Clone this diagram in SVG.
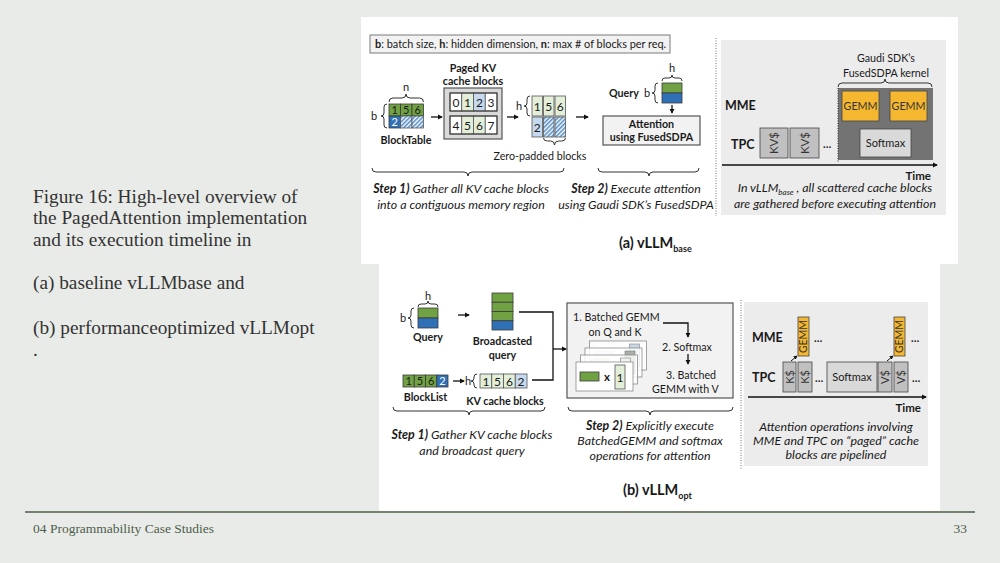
<svg xmlns="http://www.w3.org/2000/svg" width="1000" height="563" viewBox="0 0 1000 563">
<defs>
<style>
.t{font-family:Lato,"Open Sans","Liberation Sans",sans-serif;font-size:10.7px;fill:#1a1a1a}
.b{font-weight:bold}
.i{font-style:italic;font-size:12.4px}
.m{text-anchor:middle}
.e{text-anchor:end}
.n{font-size:12px}
.s{font-size:11px}
.sl{font-family:"Liberation Serif","DejaVu Serif",serif;font-size:19.3px;fill:#333}
.ft{font-family:"Liberation Serif","DejaVu Serif",serif;font-size:13.5px;fill:#4d5e4a}
.g{fill:#70a244;stroke:#3a3a3a;stroke-width:0.8}
.bl{fill:#2f70b7;stroke:#3a3a3a;stroke-width:0.8}
.lg{fill:#e3efd9;stroke:#555;stroke-width:0.8}
.lb{fill:#c7d9ee;stroke:#555;stroke-width:0.8}
.w{fill:#fff;stroke:#555;stroke-width:0.8}
.h{fill:url(#hatch);stroke:#555;stroke-width:0.8}
.ar{stroke:#111;stroke-width:1.3;fill:none;marker-end:url(#ah)}
.br{fill:none;stroke:#333;stroke-width:1}
.dv{stroke:#8a8a8a;stroke-width:1.2;stroke-dasharray:1 1.5}
.gm{fill:#f4b72f;stroke:#444;stroke-width:0.8}
.gy{fill:#c0c0c0;stroke:#444;stroke-width:0.8}
.sm{fill:#d9d9d9;stroke:#444;stroke-width:0.8}
.card{fill:#fff;fill-opacity:0.8;stroke:#8a8a8a;stroke-width:0.8}
</style>
<marker id="ah" viewBox="0 0 6 6" refX="5" refY="3" markerWidth="4" markerHeight="4" orient="auto"><path d="M0,0 L6,3 L0,6 z" fill="#111"/></marker>
<pattern id="hatch" width="3" height="3" patternUnits="userSpaceOnUse" patternTransform="rotate(45)"><rect width="3" height="3" fill="#fff"/><line x1="0.8" y1="0" x2="0.8" y2="3" stroke="#4a86c8" stroke-width="1.5"/></pattern>
</defs>

<rect width="1000" height="563" fill="#e9ebe8"/>
<rect x="361" y="17" width="597" height="247" fill="#fff"/>
<rect x="379" y="264" width="561" height="247" fill="#fff"/>

<g id="caption">
<text class="sl" x="33" y="203">Figure 16: High-level overview of</text>
<text class="sl" x="33" y="224">the PagedAttention implementation</text>
<text class="sl" x="33" y="246">and its execution timeline in</text>
<text class="sl" x="33" y="289">(a) baseline vLLMbase and</text>
<text class="sl" x="33" y="334">(b) performanceoptimized vLLMopt</text>
<text class="sl" x="33" y="356">.</text>
</g>

<g id="footer">
<line x1="25" y1="512" x2="975" y2="512" stroke="#4d5e4a" stroke-width="1.5"/>
<text class="ft" x="33" y="533">04 Programmability Case Studies</text>
<text class="ft e" x="967" y="533">33</text>
</g>

<!-- (a) -->
<g id="legend">
<rect x="370" y="35" width="300" height="18" fill="#f2f2f2" stroke="#7a7a7a" stroke-width="1"/>
<text class="t" x="375" y="48" style="font-size:10.9px"><tspan class="b">b</tspan>: batch size, <tspan class="b">h</tspan>: hidden dimension, <tspan class="b">n</tspan>: max # of blocks per req.</text>
</g>
<line class="dv" x1="716" y1="38" x2="716" y2="216"/>

<g id="blocktable">
<rect class="g" x="389" y="104" width="11.5" height="12"/>
<rect class="g" x="400.5" y="104" width="11.5" height="12"/>
<rect class="g" x="412" y="104" width="11.5" height="12"/>
<rect class="bl" x="389" y="116" width="11.5" height="12"/>
<rect class="h" x="400.5" y="116" width="11.5" height="12"/>
<rect class="h" x="412" y="116" width="11.5" height="12"/>
<text class="t m s" x="394.75" y="114">1</text>
<text class="t m s" x="406.25" y="114">5</text>
<text class="t m s" x="417.75" y="114">6</text>
<text class="t m s" x="394.75" y="126" style="fill:#fff">2</text>
<path class="br" d="M389,102 Q389,98 393,98 L402,98 Q406,98 406,94 Q406,98 410,98 L419.5,98 Q423.5,98 423.5,102"/>
<text class="t m s" x="406" y="91">n</text>
<path class="br" d="M387,104 Q384,104 384,107 L384,113 Q384,116 381,116 Q384,116 384,119 L384,125 Q384,128 387,128"/>
<text class="t m s" x="374" y="120">b</text>
<text class="t b m" x="406" y="144">BlockTable</text>
</g>

<g id="paged-kv">
<text class="t b m" x="473" y="72">Paged KV</text>
<text class="t b m" x="473" y="85">cache blocks</text>
<rect x="444" y="88" width="58" height="51" fill="#d9d9d9" stroke="#555" stroke-width="1.2"/>
<rect class="w" x="450" y="93" width="11.75" height="18"/>
<rect class="lg" x="461.75" y="93" width="11.75" height="18"/>
<rect class="lb" x="473.5" y="93" width="11.75" height="18"/>
<rect class="w" x="485.25" y="93" width="11.75" height="18"/>
<rect class="w" x="450" y="116" width="11.75" height="18"/>
<rect class="lg" x="461.75" y="116" width="11.75" height="18"/>
<rect class="lg" x="473.5" y="116" width="11.75" height="18"/>
<rect class="w" x="485.25" y="116" width="11.75" height="18"/>
<rect x="450" y="93" width="47" height="18" fill="none" stroke="#333" stroke-width="1"/>
<rect x="450" y="116" width="47" height="18" fill="none" stroke="#333" stroke-width="1"/>
<text class="t m n" x="455.9" y="106.5">0</text>
<text class="t m n" x="467.6" y="106.5">1</text>
<text class="t m n" x="479.4" y="106.5">2</text>
<text class="t m n" x="491.1" y="106.5">3</text>
<text class="t m n" x="455.9" y="129.5">4</text>
<text class="t m n" x="467.6" y="129.5">5</text>
<text class="t m n" x="479.4" y="129.5">6</text>
<text class="t m n" x="491.1" y="129.5">7</text>
</g>

<g id="zero-padded">
<text class="t m s" x="519" y="110">h</text>
<path class="br" d="M530,96 Q527,96 527,99 L527,103 Q527,106 524,106 Q527,106 527,109 L527,113 Q527,116 530,116"/>
<rect class="lg" x="532" y="96" width="10.5" height="20"/>
<rect class="lg" x="543.5" y="96" width="10.5" height="20"/>
<rect class="lg" x="555" y="96" width="10.5" height="20"/>
<rect class="lb" x="532" y="117" width="10.5" height="20"/>
<rect class="h" x="543.5" y="117" width="10.5" height="20"/>
<rect class="h" x="555" y="117" width="10.5" height="20"/>
<text class="t m n" x="537.25" y="110.5">1</text>
<text class="t m n" x="548.75" y="110.5">5</text>
<text class="t m n" x="560.25" y="110.5">6</text>
<text class="t m n" x="537.25" y="131.5">2</text>
<path class="br" d="M543.5,138 Q543.5,141 547.5,141 L550.5,141 Q554.5,141 554.5,145 Q554.5,141 558.5,141 L561.5,141 Q565.5,141 565.5,138"/>
<text class="t m" x="540" y="160">Zero-padded blocks</text>
</g>

<g id="query-a">
<text class="t b" x="609" y="97">Query</text>
<text class="t m s" x="647" y="97">b</text>
<path class="br" d="M658,83 Q655,83 655,86 L655,90 Q655,93 652,93 Q655,93 655,96 L655,100 Q655,103 658,103"/>
<rect class="g" x="662" y="83" width="20" height="10"/>
<rect class="bl" x="662" y="93" width="20" height="10"/>
<path class="br" d="M662,81 Q662,78 665,78 L669,78 Q672,78 672,75 Q672,78 675,78 L679,78 Q682,78 682,81"/>
<text class="t m s" x="672" y="72">h</text>
</g>

<g id="attention">
<rect x="603" y="116" width="97" height="29" fill="#f2f2f2" stroke="#555" stroke-width="1.2"/>
<text class="t b m" x="651.5" y="128">Attention</text>
<text class="t b m" x="651.5" y="141">using FusedSDPA</text>
</g>

<g id="connectors-a">
<path class="ar" d="M431,117 H442"/>
<path class="ar" d="M507,117 H518"/>
<path class="ar" d="M576,117 H588"/>
<path class="ar" d="M672,105 V113"/>
</g>

<g id="steps-a">
<path class="br" d="M372,168 Q372,172 376,172 L464,172 Q468,172 468,176 Q468,172 472,172 L560,172 Q564,172 564,168"/>
<path class="br" d="M598,168 Q598,172 602,172 L645,172 Q649,172 649,176 Q649,172 653,172 L695,172 Q699,172 699,168"/>
<text class="t i m" x="461" y="193"><tspan class="b">Step 1)</tspan> Gather all KV cache blocks</text>
<text class="t i m" x="461" y="209">into a contiguous memory region</text>
<text class="t i m" x="636" y="193"><tspan class="b">Step 2)</tspan> Execute attention</text>
<text class="t i m" x="636" y="209">using Gaudi SDK’s FusedSDPA</text>
</g>

<g id="timeline-a">
<rect x="721" y="40" width="225" height="175" fill="#ececec"/>
<text class="t m" x="886" y="62">Gaudi SDK’s</text>
<text class="t m" x="886" y="77">FusedSDPA kernel</text>
<path class="br" d="M838,87 Q838,83 842,83 L881,83 Q885,83 885,79 Q885,83 889,83 L928,83 Q932,83 932,87"/>
<rect x="838" y="88" width="95" height="72" fill="#737373"/>
<line x1="838" y1="88" x2="838" y2="162" stroke="#444" stroke-width="1.2" stroke-dasharray="1 1.5"/>
<rect class="gm" x="842" y="91" width="37" height="30"/>
<rect class="gm" x="890" y="91" width="37" height="30"/>
<text class="t m" x="860.5" y="110" style="fill:#333">GEMM</text>
<text class="t m" x="908.5" y="110" style="fill:#333">GEMM</text>
<rect class="sm" x="860" y="129" width="51" height="28"/>
<text class="t m" x="885.5" y="147" style="font-size:11px">Softmax</text>
<text class="t b" x="725" y="110" style="font-size:12.5px">MME</text>
<text class="t b" x="731" y="149" style="font-size:12.5px">TPC</text>
<rect class="gy" x="760" y="128" width="28" height="30"/>
<rect class="gy" x="790" y="128" width="29" height="30"/>
<text class="t m" transform="translate(778,143) rotate(-90)" style="font-size:11.5px;fill:#333">KV$</text>
<text class="t m" transform="translate(808.5,143) rotate(-90)" style="font-size:11.5px;fill:#333">KV$</text>
<text class="t b" x="823" y="148">…</text>
<path class="ar" d="M722,165 H937"/>
<text class="t b e" x="931" y="180" style="font-size:11.5px">Time</text>
<text class="t i m" x="835" y="192">In vLLM<tspan style="font-size:8px" dy="3">base</tspan><tspan dy="-3"> , all scattered cache blocks</tspan></text>
<text class="t i m" x="835" y="208">are gathered before executing attention</text>
</g>

<text class="t b" x="619" y="248" style="font-size:14.5px">(a) vLLM<tspan style="font-size:9px" dy="4">base</tspan></text>

<!-- (b) -->
<g id="query-b">
<text class="t m s" x="428" y="300">h</text>
<path class="br" d="M418,307 Q418,304 421,304 L425,304 Q428,304 428,301 Q428,304 431,304 L435,304 Q438,304 438,307"/>
<text class="t m s" x="403" y="322">b</text>
<path class="br" d="M414,308 Q411,308 411,311 L411,315 Q411,318 408,318 Q411,318 411,321 L411,325 Q411,328 414,328"/>
<rect class="g" x="418" y="308" width="20" height="10"/>
<rect class="bl" x="418" y="318" width="20" height="10"/>
<text class="t b m" x="428" y="341">Query</text>
</g>

<g id="broadcasted">
<rect class="g" x="492" y="293" width="21" height="9.25"/>
<rect class="g" x="492" y="302.25" width="21" height="9.25"/>
<rect class="g" x="492" y="311.5" width="21" height="9.25"/>
<rect class="bl" x="492" y="320.75" width="21" height="9.25"/>
<text class="t b m" x="502.5" y="345">Broadcasted</text>
<text class="t b m" x="502.5" y="359">query</text>
</g>

<g id="blocklist">
<rect class="g" x="403" y="375" width="11.25" height="12"/>
<rect class="g" x="414.25" y="375" width="11.25" height="12"/>
<rect class="g" x="425.5" y="375" width="11.25" height="12"/>
<rect class="bl" x="436.75" y="375" width="11.25" height="12"/>
<text class="t m s" x="408.6" y="385">1</text>
<text class="t m s" x="419.9" y="385">5</text>
<text class="t m s" x="431.1" y="385">6</text>
<text class="t m s" x="442.4" y="385" style="fill:#fff">2</text>
<text class="t b m" x="425.5" y="401">BlockList</text>
</g>

<g id="kv-blocks-b">
<text class="t m s" x="468" y="385">h</text>
<path class="br" d="M477,374 Q474,374 474,377 L474,378 Q474,381 471,381 Q474,381 474,384 L474,385 Q474,388 477,388"/>
<rect class="lg" x="480" y="374" width="11.75" height="14"/>
<rect class="lg" x="491.75" y="374" width="11.75" height="14"/>
<rect class="lg" x="503.5" y="374" width="11.75" height="14"/>
<rect class="lb" x="515.25" y="374" width="11.75" height="14"/>
<text class="t m n" x="485.9" y="385.5">1</text>
<text class="t m n" x="497.6" y="385.5">5</text>
<text class="t m n" x="509.4" y="385.5">6</text>
<text class="t m n" x="521.1" y="385.5">2</text>
<text class="t b m" x="505" y="405">KV cache blocks</text>
</g>

<g id="batched-box">
<rect x="567" y="303" width="166" height="95" fill="#f2f2f2" stroke="#555" stroke-width="1.2"/>
<text class="t" x="573" y="321">1. Batched GEMM</text>
<text class="t m" x="615" y="336">on Q and K</text>
<text class="t" x="662" y="351">2. Softmax</text>
<text class="t" x="666" y="379">3. Batched</text>
<text class="t" x="652" y="393">GEMM with  V</text>
<g id="cards">
<rect class="card" x="589.5" y="341" width="57" height="29"/>
<rect x="594.5" y="351" width="19" height="9" fill="#dfe8f2" stroke="#c8d0da" stroke-width="0.6"/>
<rect x="629.5" y="344" width="10" height="23" fill="#c9d6e6" stroke="#888" stroke-width="0.6"/>
<rect class="card" x="585" y="348" width="57" height="29"/>
<rect x="590" y="358" width="19" height="9" fill="#e4ece0" stroke="#ccd4c8" stroke-width="0.6"/>
<rect x="625" y="351" width="10" height="23" fill="#a9b0a9" stroke="#777" stroke-width="0.6"/>
<rect class="card" x="580.5" y="355" width="57" height="29"/>
<rect x="585.5" y="365" width="19" height="9" fill="#e6ede2" stroke="#d0d6cc" stroke-width="0.6"/>
<text class="t b" x="611" y="374" style="fill:#cfcfcf">x</text>
<rect x="620.5" y="358" width="10" height="23" fill="#eef3ea" stroke="#888" stroke-width="0.6"/>
<rect class="card" x="576" y="362" width="57" height="29" style="fill-opacity:1"/>
<rect x="580" y="372" width="19" height="9" fill="#70a244" stroke="#3a3a3a" stroke-width="0.8"/>
<text class="t b" x="604" y="381" style="font-size:11.5px">x</text>
<rect class="lg" x="615" y="365" width="10" height="24"/>
<text class="t m n" x="620" y="381.5">1</text>
</g>
</g>

<g id="connectors-b">
<path class="ar" d="M458,315 H469"/>
<path class="ar" d="M453,381 H464"/>
<path d="M519,312 H553 V380 H532" fill="none" stroke="#111" stroke-width="1.3"/>
<path class="ar" d="M553,349 H566"/>
<path class="ar" d="M663,323 H688 V337"/>
<path class="ar" d="M688,354 V364"/>
</g>

<g id="steps-b">
<path class="br" d="M393,407 Q393,411 397,411 L465,411 Q469,411 469,415 Q469,411 473,411 L541,411 Q545,411 545,407"/>
<path class="br" d="M568,407 Q568,411 572,411 L646,411 Q650,411 650,415 Q650,411 654,411 L729,411 Q733,411 733,407"/>
<text class="t i m" x="472" y="439"><tspan class="b">Step 1)</tspan> Gather KV cache blocks</text>
<text class="t i m" x="472" y="455">and broadcast query</text>
<text class="t i m" x="650" y="430"><tspan class="b">Step 2)</tspan> Explicitly execute</text>
<text class="t i m" x="650" y="445">BatchedGEMM and softmax</text>
<text class="t i m" x="650" y="460">operations for attention</text>
</g>

<line class="dv" x1="741" y1="300" x2="741" y2="470"/>

<g id="timeline-b">
<rect x="744" y="302" width="184" height="164" fill="#ececec"/>
<text class="t b" x="752" y="342" style="font-size:12.5px">MME</text>
<text class="t b" x="752" y="382" style="font-size:12.5px">TPC</text>
<rect class="gm" x="798" y="317" width="11" height="39"/>
<rect class="gm" x="894" y="317" width="11" height="39"/>
<text class="t m" transform="translate(807.3,336.5) rotate(-90)" style="font-size:10.5px;fill:#333">GEMM</text>
<text class="t m" transform="translate(903.3,336.5) rotate(-90)" style="font-size:10.5px;fill:#333">GEMM</text>
<text class="t b" x="814" y="342">…</text>
<text class="t b" x="911" y="342">…</text>
<rect class="gy" x="783" y="362" width="13" height="30"/>
<rect class="gy" x="798" y="362" width="14" height="30"/>
<text class="t m" transform="translate(793.5,377) rotate(-90)" style="font-size:11px;fill:#333">K$</text>
<text class="t m" transform="translate(809,377) rotate(-90)" style="font-size:11px;fill:#333">K$</text>
<text class="t b" x="815" y="382">…</text>
<rect class="sm" x="827" y="362" width="50" height="30"/>
<text class="t m" x="852" y="381" style="font-size:11px">Softmax</text>
<rect class="gy" x="878" y="362" width="14" height="30"/>
<rect class="gy" x="894" y="362" width="14" height="30"/>
<text class="t m" transform="translate(889,377) rotate(-90)" style="font-size:11px;fill:#333">V$</text>
<text class="t m" transform="translate(905,377) rotate(-90)" style="font-size:11px;fill:#333">V$</text>
<text class="t b" x="912" y="382">…</text>
<path d="M791,361 L797,356" stroke="#111" stroke-width="1" marker-end="url(#ah)"/>
<path d="M887,361 L893,356" stroke="#111" stroke-width="1" marker-end="url(#ah)"/>
<path class="ar" d="M748,397 H926"/>
<text class="t b e" x="921" y="412" style="font-size:11.5px">Time</text>
<text class="t i m" x="836" y="431">Attention operations involving</text>
<text class="t i m" x="836" y="445">MME and TPC on “paged” cache</text>
<text class="t i m" x="836" y="459">blocks are pipelined</text>
</g>

<text class="t b" x="623" y="495" style="font-size:14.5px">(b) vLLM<tspan style="font-size:9px" dy="4">opt</tspan></text>
</svg>
